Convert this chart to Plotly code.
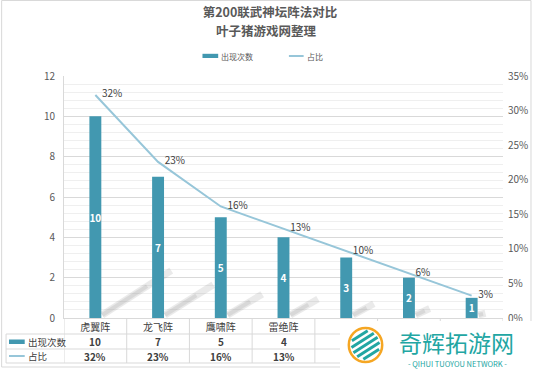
import math
import plotly.graph_objects as go

# ---------------- data ----------------
categories = ["虎翼阵", "龙飞阵", "鹰啸阵", "雷绝阵", "风扬阵", "云垂阵", "鸟翔阵"]
counts = [10, 7, 5, 4, 3, 2, 1]
shares = [0.3226, 0.2258, 0.1613, 0.1290, 0.0968, 0.0645, 0.0323]
series_names = ["出现次数", "占比"]
title_lines = ["第200联武神坛阵法对比", "叶子猪游戏网整理"]
watermark_lines = ["奇辉拓游网", "- QIHUI TUOYOU NETWORK -"]

# ---------------- style ----------------
W, H = 540, 370
ML, MR, MT, MB = 64, 29, 76, 52
PW, PH = W - ML - MR, H - MT - MB
BAR = "#4298B0"
LINE = "#97C6D9"
TXT = "#404040"
AX = "#595959"
GRID = "#d9d9d9"
MINOR = "#efefef"
WM = "#22A6A3"
FONT = "Noto Sans CJK SC, Open Sans, sans-serif"
YMAX = 12
WM_LEFT = 345  # left edge (px) of the pasted watermark box


def px(x):
    return (x - ML) / PW


def py(y):
    return (H - MB - y) / PH


n_cat = len(categories)
# columns that are hidden under the watermark in the reference
visible = [ML + (i + 0.5) * PW / n_cat < WM_LEFT for i in range(n_cat)]

fig = go.Figure()

fig.add_trace(go.Bar(
    x=categories, y=counts, name=series_names[0], width=0.19,
    marker=dict(color=BAR, line=dict(width=0)),
    text=counts, textposition="inside", insidetextanchor="middle",
    constraintext="none",
    textfont=dict(color="white", size=10, family=FONT, weight="bold"),
    showlegend=False,
))

fig.add_trace(go.Scatter(
    x=categories, y=shares, name=series_names[1], yaxis="y2",
    mode="lines+markers+text",
    line=dict(color=LINE, width=2),
    marker=dict(size=9, opacity=0, color=LINE),
    texttemplate="%{y:.0%}", textposition="middle right",
    textfont=dict(color=TXT, size=10, family=FONT),
    cliponaxis=False, showlegend=False,
))

shapes = []
# bar shadows (perspective), derived from bar heights
for i, h in enumerate(counts):
    x0, y0 = i + 0.11, 0.15
    x1, y1 = i + 0.11 + 0.11 * h, 0.235 * h
    shapes.append(dict(type="line", xref="x", yref="y", x0=x0, y0=y0, x1=x1, y1=y1,
                       line=dict(color="rgba(130,130,130,0.17)", width=7), layer="between"))
    shapes.append(dict(type="line", xref="x", yref="y", x0=x0, y0=y0,
                       x1=x0 + (x1 - x0) * 0.65, y1=y0 + (y1 - y0) * 0.65,
                       line=dict(color="rgba(130,130,130,0.17)", width=4), layer="between"))

# table grid
for yy in (334, 349, 363):
    shapes.append(dict(type="line", xref="paper", yref="paper", x0=px(5), x1=1,
                       y0=py(yy), y1=py(yy), line=dict(color=GRID, width=1)))
shapes.append(dict(type="line", xref="paper", yref="paper", x0=px(5), x1=px(5),
                   y0=py(334), y1=py(363), line=dict(color=GRID, width=1)))
for i in range(n_cat + 1):
    shapes.append(dict(type="line", xref="x", yref="paper", x0=i - 0.5, x1=i - 0.5,
                       y0=0, y1=py(363), line=dict(color=GRID, width=1)))
# table row keys
shapes.append(dict(type="rect", xref="paper", yref="paper", x0=px(8), x1=px(24),
                   y0=py(339.5), y1=py(344), fillcolor=BAR, line=dict(width=0)))
shapes.append(dict(type="line", xref="paper", yref="paper", x0=px(8), x1=px(24),
                   y0=py(356), y1=py(356), line=dict(color=LINE, width=2)))
# legend keys
shapes.append(dict(type="rect", xref="paper", yref="paper", x0=px(205), x1=px(221),
                   y0=py(53.8), y1=py(58), fillcolor=BAR, line=dict(width=0)))
shapes.append(dict(type="line", xref="paper", yref="paper", x0=px(293), x1=px(308),
                   y0=py(56), y1=py(56), line=dict(color=LINE, width=2)))
# chart border
shapes.append(dict(type="rect", xref="paper", yref="paper", x0=px(0.5), x1=px(539.5),
                   y0=py(0.5), y1=py(367), line=dict(color="#d9d9d9", width=1)))

# watermark
shapes.append(dict(type="rect", xref="paper", yref="paper", x0=px(WM_LEFT), x1=px(541),
                   y0=py(321), y1=py(371), fillcolor="white", line=dict(width=0)))
cx, cy, r = 371, 345, 17
ang = math.radians(32)
d = (math.cos(ang), -math.sin(ang))
nv = (math.sin(ang), math.cos(ang))
for k in (-11, -5.5, 0, 5.5, 11):
    L = math.sqrt(max(14.5 ** 2 - k ** 2, 0))
    ax0 = cx + k * nv[0] - L * d[0]
    ay0 = cy + k * nv[1] - L * d[1]
    ax1 = cx + k * nv[0] + L * d[0]
    ay1 = cy + k * nv[1] + L * d[1]
    shapes.append(dict(type="line", xref="paper", yref="paper", x0=px(ax0), y0=py(ay0),
                       x1=px(ax1), y1=py(ay1), line=dict(color=WM, width=3)))
shapes.append(dict(type="circle", xref="paper", yref="paper", x0=px(cx - r), x1=px(cx + r),
                   y0=py(cy - r), y1=py(cy + r), line=dict(color="#F5A623", width=2.5)))

annotations = [
    dict(text="<b>" + title_lines[1] + "</b>", x=px(W / 2), y=py(30.6), xanchor="center",
         yanchor="middle", font=dict(size=12.5, color=AX, family=FONT)),
    dict(text=series_names[0], x=px(223), y=py(56), xanchor="left", yanchor="middle",
         font=dict(size=8, color=AX, family=FONT)),
    dict(text=series_names[1], x=px(310), y=py(56), xanchor="left", yanchor="middle",
         font=dict(size=8, color=AX, family=FONT)),
    dict(text=series_names[0], x=px(26), y=py(341.5), xanchor="left", yanchor="middle",
         font=dict(size=9.5, color=TXT, family=FONT)),
    dict(text=series_names[1], x=px(26), y=py(356), xanchor="left", yanchor="middle",
         font=dict(size=9.5, color=TXT, family=FONT)),
    dict(text=watermark_lines[0], x=px(464), y=py(341.8), xanchor="center", yanchor="middle",
         font=dict(size=23, color=WM, family=FONT)),
    dict(text=watermark_lines[1], x=px(465), y=py(363.6), xanchor="center",
         yanchor="middle", font=dict(size=7.5, color=WM, family=FONT)),
]
for a in annotations:
    a.update(xref="paper", yref="paper", showarrow=False, borderpad=0)

# data-table cells placed on the category axis (columns under the watermark are hidden)
for cat, cnt, shr, vis in zip(categories, counts, shares, visible):
    if not vis:
        continue
    annotations.append(dict(text=f"{cnt}", xref="x", yref="paper", x=cat, y=py(341.5),
                            xanchor="center", yanchor="middle", showarrow=False,
                            font=dict(size=10, color=TXT, family=FONT, weight="bold")))
    annotations.append(dict(text=f"{shr:.0%}", xref="x", yref="paper", x=cat, y=py(356),
                            xanchor="center", yanchor="middle", showarrow=False,
                            font=dict(size=10, color=TXT, family=FONT, weight="bold")))

fig.update_layout(
    width=W, height=H,
    margin=dict(l=ML, r=MR, t=MT, b=MB),
    paper_bgcolor="white", plot_bgcolor="white",
    font=dict(family=FONT, color=AX),
    title=dict(text="<b>" + title_lines[0] + "</b>",
               x=0.5, xanchor="center", xref="container",
               y=1 - 12.2 / H, yanchor="middle", yref="container",
               font=dict(size=12.5, color=AX, family=FONT)),
    xaxis=dict(type="category", range=[-0.5, n_cat - 0.5],
               tickmode="array", tickvals=categories,
               ticktext=[c if v else "" for c, v in zip(categories, visible)],
               showline=True, linecolor=GRID, linewidth=1, showgrid=False,
               tickfont=dict(size=10, color=TXT, family=FONT), ticks=""),
    yaxis=dict(range=[0, YMAX], dtick=2, showgrid=True, gridcolor=GRID, gridwidth=1,
               minor=dict(dtick=0.4, showgrid=True, gridcolor=MINOR),
               showline=True, linecolor=GRID, zeroline=False, ticks="",
               ticklabelstandoff=6,
               tickfont=dict(size=10, color=AX, family=FONT)),
    yaxis2=dict(range=[0, 0.35], dtick=0.05, tickformat=".0%", overlaying="y",
                side="right", showgrid=False, zeroline=False, showline=False, ticks="",
                ticklabelstandoff=4,
                tickfont=dict(size=10, color=AX, family=FONT)),
    shapes=shapes,
    annotations=annotations,
    showlegend=False,
)

fig.write_html("out.html", config={"displayModeBar": False},
               post_script="document.body.style.margin='0px';")
